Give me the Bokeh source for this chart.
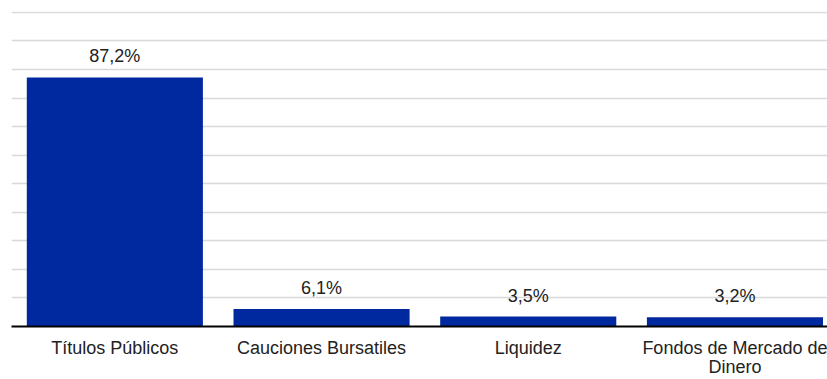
from bokeh.plotting import figure
from bokeh.models import Range1d, FixedTicker, ColumnDataSource
from bokeh.core.properties import value
from bokeh.embed import file_html
from bokeh.resources import INLINE

categories = ["Títulos Públicos", "Cauciones Bursatiles", "Liquidez", "Fondos de Mercado de\nDinero"]
values = [87.2, 6.1, 3.5, 3.2]
labels = ["87,2%", "6,1%", "3,5%", "3,2%"]
grid_ticks = [10, 20, 30, 40, 50, 60, 70, 80, 90, 100, 110]

xpos = [i + 0.5 for i in range(len(categories))]
src = ColumnDataSource(dict(x=xpos, top=values, lab=labels))

W, H = 827, 379
LEFT = 11
p = figure(width=W, height=H, output_backend="svg", toolbar_location=None,
           x_range=Range1d(0, (W - LEFT) / 206.7), y_range=Range1d(0, 110.3),
           min_border_left=LEFT, min_border_right=0, min_border_top=11, min_border_bottom=51,
           y_axis_location=None)
p.outline_line_color = None
p.background_fill_color = "white"
p.border_fill_color = "white"

p.vbar(x="x", top="top", width=0.852, bottom=0, source=src,
       fill_color="#0029a0", line_color=None)
p.text(x="x", y="top", text="lab", source=src, text_align="center",
       text_baseline="alphabetic", y_offset=-21,
       text_font=value("Liberation Sans"), text_font_size="18px", text_color="#222222")

p.xgrid.visible = False
p.ygrid.ticker = FixedTicker(ticks=grid_ticks)
p.ygrid.grid_line_color = "#d9d9d9"
p.ygrid.grid_line_width = 1.5

ax = p.xaxis[0]
ax.ticker = FixedTicker(ticks=xpos)
ax.major_label_overrides = {x: c for x, c in zip(xpos, categories)}
ax.major_label_text_font = "Liberation Sans"
ax.major_label_text_font_size = "18px"
ax.major_label_text_color = "#222222"
ax.major_label_text_line_height = 0.95
ax.major_label_standoff = 11
ax.major_tick_out = 0
ax.major_tick_in = 0
ax.major_tick_line_color = None
ax.minor_tick_line_color = None
ax.axis_line_color = "black"
ax.axis_line_width = 2

open("out.html", "w").write(file_html(p, INLINE))
